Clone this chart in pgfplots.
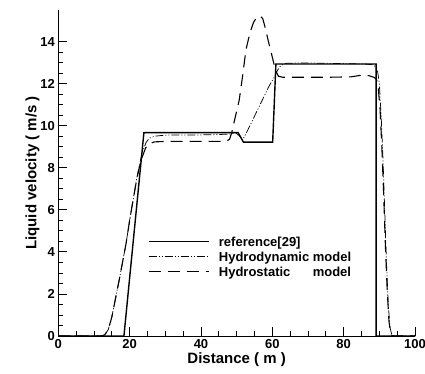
\documentclass[border=0pt]{standalone}
\usepackage{fontspec}
\setmainfont{Liberation Sans}
\usepackage{pgfplots}
\pgfplotsset{compat=1.18}
\begin{document}
\begin{tikzpicture}
\begin{axis}[
  scale only axis,
  width=356.7pt, height=326pt,
  xmin=0, xmax=100, ymin=0, ymax=15.5,
  axis x line=bottom, axis y line=left,
  axis line style={-, line width=0.9pt},
  tick align=inside,
  xtick={0,20,40,60,80,100},
  ytick={0,2,4,6,8,10,12,14},
  minor x tick num=3, minor y tick num=3,
  major tick length=9pt, minor tick length=5pt,
  every tick/.style={black, line width=0.8pt},
  /pgf/number format/assume math mode=true,
  tick label style={font=\bfseries\fontsize{13}{15}\selectfont},
  xlabel={Distance ( m )}, ylabel={Liquid velocity ( m/s )},
  label style={font=\bfseries\fontsize{15}{17}\selectfont},
  xlabel style={yshift=3pt},
  ylabel style={yshift=-6pt},
  legend style={draw=none, fill=none, at={(axis cs:25.1,3.77)}, anchor=west,
    inner sep=0pt, row sep=2.5pt, font=\bfseries\fontsize{13}{15}\selectfont,
    nodes={inner sep=1.5pt, text depth=0pt}},
  legend cell align=left,
  legend image code/.code={\draw[#1] (0pt,0pt) -- (60pt,0pt); \path (68pt,0pt);},
]
\addplot[black, line width=1.4pt] coordinates {
(0,0) (18.4,0) (24,9.67) (50.4,9.67) (51.9,9.22) (60.1,9.22) (61.0,12.93) (89.1,12.93) (89.1,0) (100,0)};
\addlegendentry{reference[29]}
\addplot[black, line width=0.75pt, dash pattern=on 8pt off 2pt on 1pt off 2pt on 1pt off 2pt] coordinates {
(0,0) (12,0) (13,0.05) (14,0.3) (15,0.9) (16,1.75) (17,2.6) (18,3.5) (19,4.4) (20,5.5) (21,6.5) (22,7.5) (22.7,8.1) (23.5,8.7) (24.6,9.2) (25.5,9.4) (27,9.5) (30,9.55) (40,9.56) (45,9.58) (48,9.6) (49,9.63) (49.8,9.65) (50.5,9.55) (51.3,9.42) (52,9.42) (53,9.75) (54,10.1) (55,10.45) (56,10.8) (57,11.15) (58,11.5) (59,11.85) (60,12.15) (60.7,12.35) (61.5,12.65) (62.5,12.88) (64,12.97) (70,12.98) (80,12.95) (86,12.93) (88,12.9) (89,12.8) (89.5,12.6) (90,12.0) (90.5,10.5) (91,8.5) (91.5,6.0) (92,3.5) (92.5,1.5) (93,0.4) (93.5,0.05) (94,0) (100,0)};
\addlegendentry{Hydrodynamic model}
\addplot[black, line width=1.1pt, dash pattern=on 12pt off 7pt] coordinates {
(0,0) (12,0) (13,0.05) (14,0.3) (15,0.9) (16,1.75) (17,2.6) (18,3.5) (19,4.4) (20,5.5) (21,6.5) (22,7.45) (22.7,8.0) (23.5,8.5) (24.5,8.95) (25.5,9.15) (27,9.23) (30,9.25) (47,9.25) (48,9.35) (48.6,9.65) (49.6,10.4) (50.7,11.2) (51.7,12.4) (52.6,13.6) (53.7,14.4) (54.7,14.9) (55.6,15.15) (56.5,15.22) (57.3,15.1) (58.1,14.6) (58.9,14.0) (59.8,13.4) (60.5,12.9) (61,12.6) (61.7,12.35) (63,12.3) (75,12.3) (82,12.32) (85,12.4) (87,12.38) (88.5,12.3) (89.2,12.2) (89.7,11.8) (90.2,10.8) (90.7,9.0) (91.2,6.8) (91.7,4.3) (92.2,2.2) (92.7,0.7) (93.2,0.1) (93.7,0) (100,0)};
\addlegendentry{Hydrostatic\hspace{1.72em}model}
\coordinate (SW) at (rel axis cs:0,0);
\coordinate (NE) at (rel axis cs:1,1);
\end{axis}
\pgfresetboundingbox
\path ([shift={(-58.3pt,-38pt)}]SW) rectangle ([shift={(10pt,10pt)}]NE);
\end{tikzpicture}
\end{document}
